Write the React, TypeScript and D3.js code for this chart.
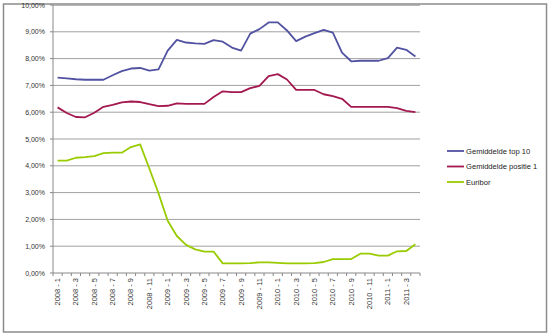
import React from "react";
import * as d3 from "d3";

const categories: string[] = [
  "2008 - 1","2008 - 2","2008 - 3","2008 - 4","2008 - 5","2008 - 6","2008 - 7","2008 - 8","2008 - 9","2008 - 10","2008 - 11","2008 - 12",
  "2009 - 1","2009 - 2","2009 - 3","2009 - 4","2009 - 5","2009 - 6","2009 - 7","2009 - 8","2009 - 9","2009 - 10","2009 - 11","2009 - 12",
  "2010 - 1","2010 - 2","2010 - 3","2010 - 4","2010 - 5","2010 - 6","2010 - 7","2010 - 8","2010 - 9","2010 - 10","2010 - 11","2010 - 12",
  "2011 - 1","2011 - 2","2011 - 3","2011 - 4",
];

const top10: number[] = [
  7.29, 7.26, 7.23, 7.21, 7.21, 7.21, 7.38, 7.53, 7.63, 7.65, 7.55, 7.6,
  8.3, 8.7, 8.6, 8.57, 8.55, 8.69, 8.63, 8.41, 8.3, 8.93, 9.1, 9.35,
  9.35, 9.05, 8.65, 8.82, 8.95, 9.07, 8.97, 8.22, 7.9, 7.92, 7.92, 7.92,
  8.02, 8.41, 8.33, 8.08,
];

const positie1: number[] = [
  6.18, 5.97, 5.82, 5.81, 5.98, 6.2, 6.27, 6.37, 6.4, 6.38, 6.3, 6.23,
  6.24, 6.33, 6.31, 6.31, 6.31, 6.57, 6.78, 6.75, 6.75, 6.9, 6.98, 7.35,
  7.42, 7.22, 6.83, 6.83, 6.83, 6.67, 6.6, 6.5, 6.2, 6.2, 6.2, 6.2,
  6.2, 6.15, 6.05, 6.0,
];

const euribor: number[] = [
  4.19, 4.19, 4.3, 4.32, 4.36, 4.47, 4.49, 4.49, 4.7, 4.8, 3.9, 2.97,
  1.95, 1.38, 1.05, 0.88, 0.8, 0.8, 0.36, 0.36, 0.36, 0.37, 0.4, 0.4,
  0.38, 0.36, 0.36, 0.36, 0.37, 0.41, 0.52, 0.52, 0.52, 0.72, 0.72, 0.65,
  0.65, 0.81, 0.82, 1.07,
];

const yTicks: number[] = [0, 1, 2, 3, 4, 5, 6, 7, 8, 9, 10];
const yTickLabels: string[] = ["0,00%", "1,00%", "2,00%", "3,00%", "4,00%", "5,00%", "6,00%", "7,00%", "8,00%", "9,00%", "10,00%"];

const seriesNames: string[] = ["Gemiddelde top 10", "Gemiddelde positie 1", "Euribor"];
const seriesColors: string[] = ["#5252A2", "#A3184F", "#99CC00"];

export default function App() {
  const left = 53, right = 420, top = 5, bottom = 273;
  const x = d3.scaleBand<string>().domain(categories).range([left, right]).padding(0);
  const y = d3.scaleLinear().domain([0, 10]).range([bottom, top]);
  const cx = (i: number) => (x(categories[i]) as number) + x.bandwidth() / 2;
  const line = d3.line<number>().x((_, i) => cx(i)).y((d) => y(d));
  const allSeries = [top10, positie1, euribor];
  const font = "'Liberation Sans', Arial, sans-serif";

  return (
    <svg width={550} height={335} style={{ position: "absolute", left: 0, top: 0 }}>
      <rect x={0} y={0} width={550} height={335} fill="#fff" />
      <rect x={3.5} y={4} width={543} height={328} fill="none" stroke="#8c8c8c" strokeWidth={1.5} />
      {yTicks.map((t, i) => (
        <g key={t}>
          {t > 0 && (
            <line x1={left} x2={right} y1={y(t)} y2={y(t)} stroke="#a0a0a0" strokeWidth={t === 10 ? 1.6 : 1} />
          )}
          <line x1={left - 3} x2={left} y1={y(t)} y2={y(t)} stroke="#888" />
          <text x={45} y={y(t) + 2.5} textAnchor="end" fontSize={7} fontFamily={font} fill="#333">
            {yTickLabels[i]}
          </text>
        </g>
      ))}
      <line x1={left} x2={left} y1={top} y2={bottom} stroke="#888" />
      <line x1={left} x2={right} y1={bottom} y2={bottom} stroke="#888" />
      {d3.range(categories.length + 1).map((k) => {
        const xx = left + k * x.bandwidth();
        return <line key={k} x1={xx} x2={xx} y1={bottom} y2={bottom + 3} stroke="#888" />;
      })}
      {categories.map((c, i) =>
        i % 2 === 0 ? (
          <text
            key={c}
            transform={`translate(${cx(i) + 2.5},${bottom + 5}) rotate(-90)`}
            textAnchor="end"
            fontSize={7.5}
            fontFamily={font}
            fill="#333"
          >
            {c}
          </text>
        ) : null
      )}
      {allSeries.map((s, k) => (
        <path key={k} d={line(s) || ""} fill="none" stroke={seriesColors[k]} strokeWidth={1.8} strokeLinejoin="round" />
      ))}
      {seriesNames.map((n, k) => {
        const ly = 151 + k * 15.5;
        return (
          <g key={n}>
            <line x1={447} x2={464} y1={ly} y2={ly} stroke={seriesColors[k]} strokeWidth={1.8} />
            <text x={466} y={ly + 2.7} fontSize={7.6} fontFamily={font} fill="#222">
              {n}
            </text>
          </g>
        );
      })}
    </svg>
  );
}
